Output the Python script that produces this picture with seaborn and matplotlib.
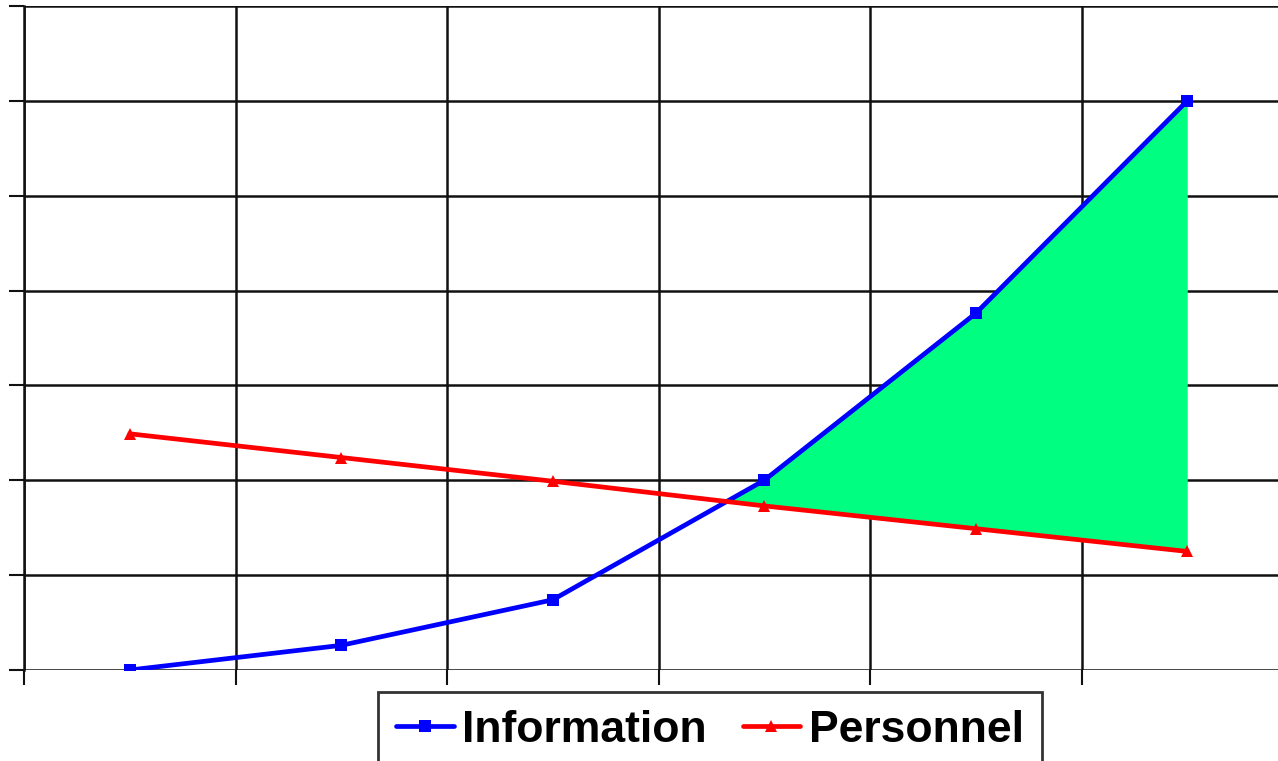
import numpy as np
import pandas as pd
import matplotlib
matplotlib.use("Agg")
import matplotlib.pyplot as plt
import seaborn as sns

# positions des catégories (centres des colonnes) et valeurs
positions = [0.5, 1.5, 2.5, 3.5, 4.5, 5.5]
information = [0.0, 0.26, 0.74, 2.0, 3.76, 6.0]
personnel = [2.49, 2.24, 1.99, 1.73, 1.49, 1.25]

df = pd.DataFrame({
    "x": positions * 2,
    "valeur": information + personnel,
    "serie": ["Information"] * 6 + ["Personnel"] * 6,
})

sns.set_style("white")
plt.rcParams['font.family'] = ['Liberation Sans', 'DejaVu Sans']

fig = plt.figure(figsize=(12.78, 7.61), dpi=100)
ax = fig.add_axes([24 / 1278, 91 / 761, 1269 / 1278, 664 / 761])

# zone verte entre les deux courbes
ax.fill_between(positions, information, personnel,
                where=np.array(information) >= np.array(personnel),
                interpolate=True, color="#00ff80", linewidth=0, zorder=1)

sns.lineplot(data=df, x="x", y="valeur", hue="serie", style="serie",
             palette={"Information": "#0000ff", "Personnel": "#ff0000"},
             markers={"Information": "s", "Personnel": "^"},
             dashes=False, markersize=8, markeredgewidth=0,
             linewidth=3.4, ax=ax, zorder=3)

ax.set_xlim(0, 6)
ax.set_ylim(0, 7)
ax.set_xticks(range(0, 7))
ax.set_yticks(range(0, 8))
ax.grid(True, color="#111111", linewidth=1.8)
ax.set_axisbelow(True)
for s in ["top", "right", "bottom"]:
    ax.spines[s].set_visible(False)
ax.spines["left"].set_color("#111111")
ax.spines["left"].set_linewidth(1.8)
ax.tick_params(axis="both", direction="out", length=11, width=1.5,
               color="#111111", labelleft=False, labelbottom=False,
               left=True, bottom=True)
ax.set_xlabel("")
ax.set_ylabel("")

handles, labels = ax.get_legend_handles_labels()
ax.legend_.remove()
leg = fig.legend(handles, labels, loc="upper center",
                 bbox_to_anchor=(710 / 1278, 1 - 692 / 761),
                 ncol=2, frameon=True, fancybox=False, borderaxespad=0,
                 prop={"size": 32, "weight": "bold"}, labelcolor="black",
                 handlelength=1.3, handletextpad=0.2, columnspacing=0.8,
                 borderpad=0.4)
leg.get_frame().set_edgecolor("black")
leg.get_frame().set_linewidth(2)

fig.savefig("out.png", dpi=100)
